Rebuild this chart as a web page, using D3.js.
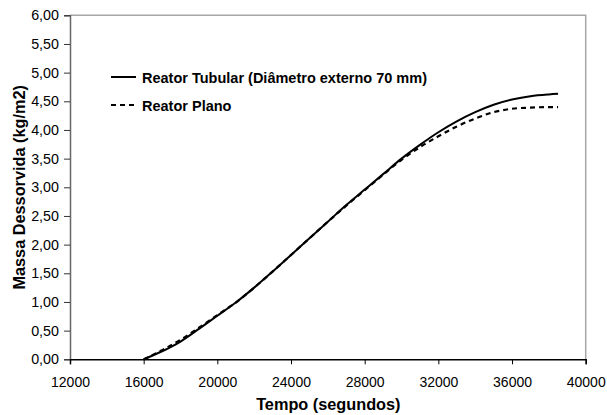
<!DOCTYPE html>
<html>
<head>
<meta charset="utf-8">
<script src="https://cdn.jsdelivr.net/npm/d3@7"></script>
<style>
  html, body { margin: 0; padding: 0; background: #fff; }
  svg { display: block; font-family: "Liberation Sans", Arial, sans-serif; }
</style>
</head>
<body>
<svg id="chart" width="607" height="415"></svg>
<script>
// ---- data ----
const tempo = [16000, 17000, 18000, 19000, 20000, 21000, 22000, 23000, 24000, 25000, 26000, 27000,
               28000, 29000, 30000, 31000, 32000, 33000, 34000, 35000, 36000, 37000, 38000, 38500];
const tubular = [0.00, 0.14, 0.31, 0.53, 0.76, 0.99, 1.25, 1.53, 1.82, 2.11, 2.40, 2.69,
                 2.96, 3.23, 3.50, 3.74, 3.96, 4.15, 4.31, 4.44, 4.53, 4.59, 4.62, 4.63];
const plano = [0.00, 0.16, 0.34, 0.55, 0.77, 0.99, 1.25, 1.53, 1.82, 2.11, 2.40, 2.68,
               2.95, 3.22, 3.48, 3.70, 3.89, 4.06, 4.20, 4.31, 4.37, 4.39, 4.40, 4.40];
const xTicks = [12000, 16000, 20000, 24000, 28000, 32000, 36000, 40000];
const yTicks = [0, 0.5, 1, 1.5, 2, 2.5, 3, 3.5, 4, 4.5, 5, 5.5, 6];
const seriesNames = ["Reator Tubular (Diâmetro externo 70 mm)", "Reator Plano"];
const xTitle = "Tempo (segundos)";
const yTitle = "Massa Dessorvida (kg/m2)";

// ---- layout ----
const svg = d3.select("#chart");
const L = 70, R = 585.7, T = 15.3, B = 359.3;
const x = d3.scaleLinear().domain([12000, 40000]).range([L, R]);
const y = d3.scaleLinear().domain([0, 6]).range([B, T]);
const fmtY = v => d3.format(".2f")(v).replace(".", ",");

// plot border (top & right)
svg.append("path")
  .attr("d", `M${L},${T}H${R}V${B}`)
  .attr("fill", "none").attr("stroke", "#a6a6a6").attr("stroke-width", 1.5);

// y axis
const yAxis = svg.append("g").attr("transform", `translate(${L},0)`)
  .call(d3.axisLeft(y).tickValues(yTicks).tickFormat(fmtY).tickSize(6).tickPadding(5));
yAxis.select(".domain").attr("stroke", "#666").attr("stroke-width", 1.5);
yAxis.selectAll(".tick line").attr("stroke", "#333");
yAxis.selectAll("text").attr("font-size", "14.3px").attr("fill", "#000")
  .attr("font-family", "Liberation Sans, Arial, sans-serif");

// x axis
const xAxis = svg.append("g").attr("transform", `translate(0,${B})`)
  .call(d3.axisBottom(x).tickValues(xTicks).tickFormat(d3.format("d")).tickSize(5).tickPadding(13));
xAxis.select(".domain").attr("stroke", "#000").attr("stroke-width", 1.5);
xAxis.selectAll(".tick line").attr("stroke", "#000");
xAxis.selectAll("text").attr("font-size", "14px").attr("fill", "#000")
  .attr("font-family", "Liberation Sans, Arial, sans-serif");

// titles
svg.append("text").attr("x", (L + R) / 2 + 0.5).attr("y", 410)
  .attr("text-anchor", "middle").attr("font-size", "16.3px").attr("font-weight", "bold")
  .text(xTitle);
svg.append("text").attr("transform", `translate(24.5,${(T + B) / 2}) rotate(-90)`)
  .attr("text-anchor", "middle").attr("font-size", "16.3px").attr("font-weight", "bold")
  .text(yTitle);

// lines
const line = d3.line().x(d => x(d[0])).y(d => y(d[1])).curve(d3.curveMonotoneX);
svg.append("path").datum(tempo.map((t, i) => [t, plano[i]]))
  .attr("d", line).attr("fill", "none").attr("stroke", "#000")
  .attr("stroke-width", 2.2).attr("stroke-dasharray", "5,4");
svg.append("path").datum(tempo.map((t, i) => [t, tubular[i]]))
  .attr("d", line).attr("fill", "none").attr("stroke", "#000")
  .attr("stroke-width", 2);

// legend
const leg = svg.append("g");
const legY = [77, 105];
const dashes = [null, "5,4"];
seriesNames.forEach((name, i) => {
  leg.append("line").attr("x1", 111).attr("x2", 136).attr("y1", legY[i]).attr("y2", legY[i])
    .attr("stroke", "#000").attr("stroke-width", 2)
    .attr("stroke-dasharray", dashes[i]);
  leg.append("text").attr("x", 142).attr("y", legY[i] + 5.5)
    .attr("font-size", "14.5px").attr("font-weight", "bold").text(name);
});
</script>
</body>
</html>
